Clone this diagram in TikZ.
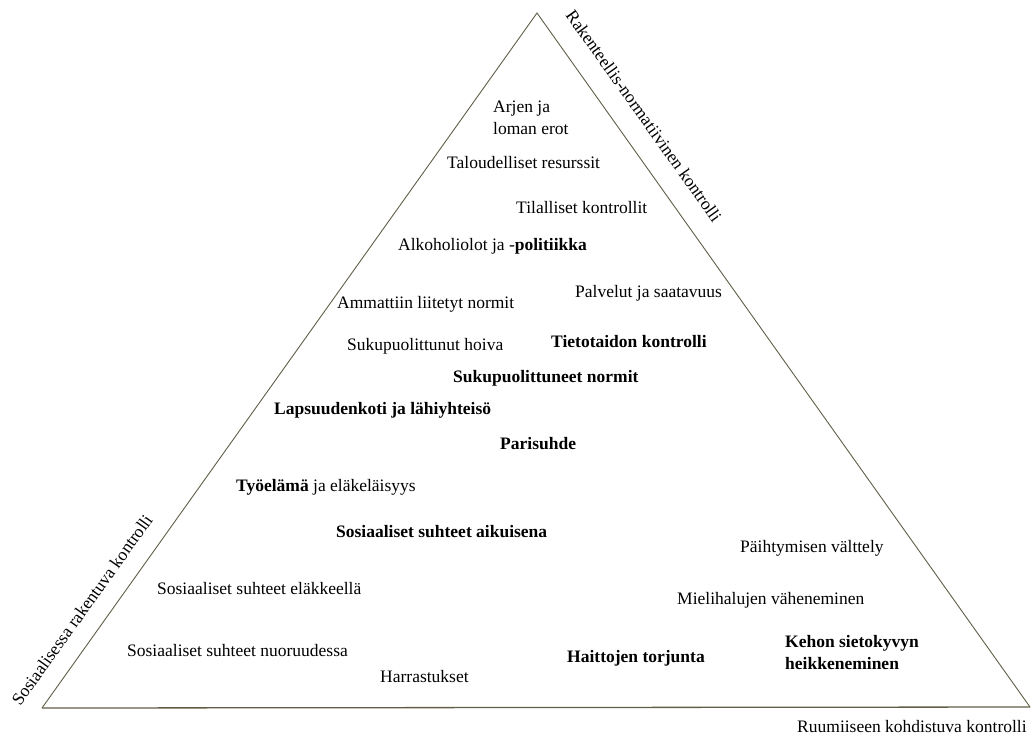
\documentclass[tikz,border=0pt]{standalone}
\usepackage{fontspec}
\setmainfont{Liberation Serif}
\begin{document}
\begin{tikzpicture}[x=1pt,y=-1pt,
  lbl/.style={anchor=base west, inner sep=0pt, font=\fontsize{17.5}{22}\selectfont, text=black},
  edge/.style={draw=black!60!olive!70!gray, line width=0.9pt},
  side/.style={inner sep=0pt, font=\fontsize{17.5}{22}\selectfont, text=black}]
\useasboundingbox (0,0) rectangle (1032,740);
\coordinate (apex) at (537,13);
\coordinate (bl) at (42,708);
\coordinate (br) at (1030,707);
\draw[edge] (bl) -- (apex) -- (br);
\draw[edge, line width=1.3pt] (bl) -- (br);

\node[side, rotate=-54.6] (rak) at (644,116) {Rakenteellis-normatiivinen kontrolli};
\node[side, rotate=54.5] (sos) at (82,610) {Sosiaalisessa rakentuva kontrolli};
\node[lbl] (ruu) at (797,732) {Ruumiiseen kohdistuva kontrolli};

\node[lbl] (arj1) at (493,112) {Arjen ja};
\node[lbl] (arj2) at (493,134) {loman erot};
\node[lbl] (tal) at (447,168) {Taloudelliset resurssit};
\node[lbl] (til) at (516,213) {Tilalliset kontrollit};
\node[lbl] (alk) at (398,250) {Alkoholiolot ja -\textbf{politiikka}};
\node[lbl] (pal) at (575,297) {Palvelut ja saatavuus};
\node[lbl] (amm) at (337,308) {Ammattiin liitetyt normit};
\node[lbl] (suk) at (347,350) {Sukupuolittunut hoiva};
\node[lbl] (tie) at (551,347) {\textbf{Tietotaidon kontrolli}};
\node[lbl] (sno) at (453,382) {\textbf{Sukupuolittuneet normit}};
\node[lbl] (lap) at (274,414) {\textbf{Lapsuudenkoti ja lähiyhteisö}};
\node[lbl] (par) at (500,449) {\textbf{Parisuhde}};
\node[lbl] (tyo) at (236,491) {\textbf{Työelämä} ja eläkeläisyys};
\node[lbl] (aik) at (336,537) {\textbf{Sosiaaliset suhteet aikuisena}};
\node[lbl] (pai) at (740,552) {Päihtymisen välttely};
\node[lbl] (ela) at (157,594) {Sosiaaliset suhteet eläkkeellä};
\node[lbl] (mie) at (677,604) {Mielihalujen väheneminen};
\node[lbl] (nuo) at (127,656) {Sosiaaliset suhteet nuoruudessa};
\node[lbl] (hai) at (567,662) {\textbf{Haittojen torjunta}};
\node[lbl] (keh1) at (785,647) {\textbf{Kehon sietokyvyn}};
\node[lbl] (keh2) at (785,669) {\textbf{heikkeneminen}};
\node[lbl] (har) at (380,682) {Harrastukset};
\end{tikzpicture}
\end{document}
